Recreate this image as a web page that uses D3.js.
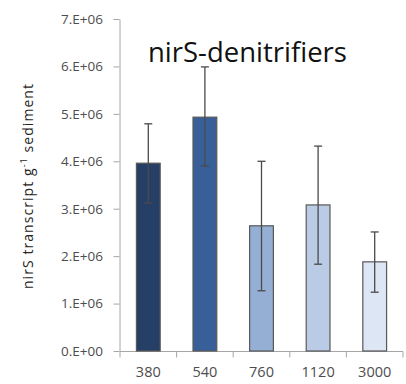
<!DOCTYPE html>
<html>
<head>
<meta charset="utf-8">
<script src="https://cdn.jsdelivr.net/npm/d3@7/dist/d3.min.js"></script>
<style>
  html, body { margin: 0; padding: 0; background: #fff; }
  svg { display: block; }
  text { font-family: "Open Sans", "Liberation Sans", sans-serif; }
</style>
</head>
<body>
<svg id="chart" width="406" height="384"></svg>
<script>
// Sampling depths (category labels on the x axis)
const depths = ["380", "540", "760", "1120", "3000"];
// Mean nirS transcript abundance per gram of sediment
const means = [3.96e6, 4.93e6, 2.64e6, 3.08e6, 1.88e6];
// Upper and lower ends of the error bars
const errHigh = [4.79e6, 5.99e6, 4.00e6, 4.32e6, 2.51e6];
const errLow = [3.12e6, 3.90e6, 1.27e6, 1.83e6, 1.24e6];
// Bar fills, dark to light
const barColors = ["#263f66", "#385f97", "#94aed4", "#bacbe6", "#dde6f4"];
// Y-axis ticks and their labels
const yTicks = [0, 1e6, 2e6, 3e6, 4e6, 5e6, 6e6, 7e6];
const yTickLabels = ["0.E+00", "1.E+06", "2.E+06", "3.E+06", "4.E+06", "5.E+06", "6.E+06", "7.E+06"];

const svg = d3.select("#chart");

const y = d3.scaleLinear().domain([0, 7e6]).range([351, 19]);
const x = d3.scaleBand().domain(depths).range([120, 403])
  .paddingInner(0.58).paddingOuter(0.29);

const axisColor = "#a6a6a6";
const labelColor = "#4d4d4d";

// Y axis
const yAxis = d3.axisLeft(y)
  .tickValues(yTicks)
  .tickFormat((d, i) => yTickLabels[i])
  .tickSizeInner(6).tickSizeOuter(0).tickPadding(10.5);
const gy = svg.append("g").attr("transform", "translate(119.5,0)").call(yAxis);
gy.select(".domain").attr("stroke", axisColor);
gy.selectAll(".tick line").attr("stroke", axisColor);
gy.selectAll(".tick text")
  .attr("fill", labelColor)
  .style("font-size", "13.5px");

// X axis: baseline, category labels, and tick marks between categories
const gx = svg.append("g").attr("transform", "translate(0,351.5)");
gx.call(d3.axisBottom(x).tickSize(0).tickPadding(15.5));
gx.select(".domain").remove();
gx.selectAll(".tick text")
  .attr("fill", labelColor)
  .style("font-size", "14.5px");
gx.append("line")
  .attr("x1", x.range()[0]).attr("x2", x.range()[1])
  .attr("stroke", axisColor);
const bounds = d3.range(depths.length + 1).map(i => x.range()[0] + i * x.step());
gx.selectAll("line.sep").data(bounds).join("line")
  .attr("class", "sep")
  .attr("x1", d => d).attr("x2", d => d)
  .attr("y1", 0).attr("y2", 6)
  .attr("stroke", axisColor);

// Bars
svg.append("g").selectAll("rect").data(depths).join("rect")
  .attr("x", d => x(d))
  .attr("y", (d, i) => y(means[i]))
  .attr("width", x.bandwidth())
  .attr("height", (d, i) => y(0) - y(means[i]))
  .attr("fill", (d, i) => barColors[i])
  .attr("stroke", "#595959")
  .attr("stroke-width", 1.2);

// Error bars
const eb = svg.append("g").attr("stroke", "#4a4a4a").attr("stroke-width", 1.3);
depths.forEach((d, i) => {
  const cx = x(d) + x.bandwidth() / 2;
  eb.append("line").attr("x1", cx).attr("x2", cx)
    .attr("y1", y(errHigh[i])).attr("y2", y(errLow[i]));
  [errHigh[i], errLow[i]].forEach(v => {
    eb.append("line").attr("x1", cx - 4).attr("x2", cx + 4)
      .attr("y1", y(v)).attr("y2", y(v));
  });
});

// Y-axis title with superscript
const yt = svg.append("text")
  .attr("transform", "translate(33,186) rotate(-90)")
  .attr("text-anchor", "middle")
  .attr("fill", "#262626")
  .style("font-size", "14px");
yt.append("tspan").text("nirS transcript g");
yt.append("tspan").attr("dy", -6).style("font-size", "9px").text("-1");
yt.append("tspan").attr("dy", 6).text(" sediment");
// spread the title to its full span along the axis
const ytw = yt.node().getComputedTextLength();
if (ytw < 205) yt.attr("letter-spacing", ((205 - ytw) / 27) + "px");

// Chart title
const title = svg.append("text")
  .attr("x", 148).attr("y", 62)
  .attr("fill", "#111")
  .style("font-size", "24px")
  .text("nirS-denitrifiers");
const tw = title.node().getComputedTextLength();
title.style("font-size", (24 * 199 / tw) + "px");
</script>
</body>
</html>
